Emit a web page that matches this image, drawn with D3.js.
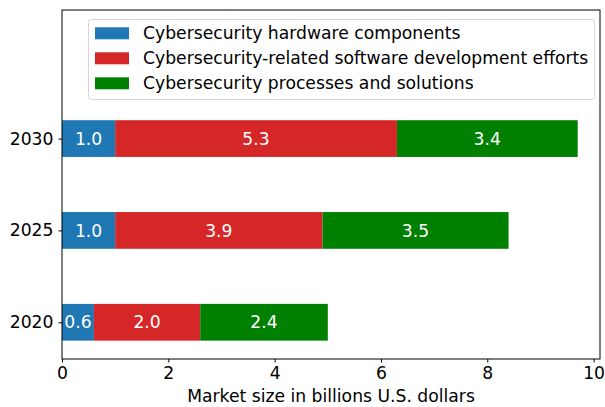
<!DOCTYPE html>
<html>
<head>
<meta charset="utf-8">
<script src="https://cdn.jsdelivr.net/npm/d3@7"></script>
<style>
  html, body { margin: 0; padding: 0; background: #fff; }
  svg { display: block; font-family: "DejaVu Sans", sans-serif; }
</style>
</head>
<body>
<svg id="chart" width="605" height="407"></svg>
<script>
// Market size by year, in billions of U.S. dollars
const years = ["2020", "2025", "2030"];
const seriesNames = [
  "Cybersecurity hardware components",
  "Cybersecurity-related software development efforts",
  "Cybersecurity processes and solutions"
];
const hardware = [0.6, 1.0, 1.0];
const software = [2.0, 3.9, 5.3];
const processes = [2.4, 3.5, 3.4];
const xTicks = [0, 2, 4, 6, 8, 10];
const colors = ["#1f77b4", "#d62728", "#008000"];

const series = [hardware, software, processes];
const fontSize = "17.2px";

const svg = d3.select("#chart");
const plotLeft = 62, plotRight = 600, plotTop = 10, plotBottom = 359;

const x = d3.scaleLinear().domain([0, 10.12]).range([plotLeft, plotRight]);
const y = d3.scaleLinear().domain([-0.4, 3.4]).range([plotBottom, plotTop]);
const barH = y(0) - y(0.4);

// stacked segments
years.forEach((yr, i) => {
  let start = 0;
  series.forEach((vals, s) => {
    const v = vals[i];
    const x0 = x(start), x1 = x(start + v);
    svg.append("rect")
      .attr("x", x0).attr("y", y(i) - barH / 2)
      .attr("width", x1 - x0).attr("height", barH)
      .attr("fill", colors[s]);
    svg.append("text")
      .attr("x", (x0 + x1) / 2).attr("y", y(i))
      .attr("dy", "0.36em")
      .attr("text-anchor", "middle")
      .attr("fill", "#fff")
      .attr("font-size", fontSize)
      .text(v.toFixed(1));
    start += v;
  });
});

// frame
svg.append("rect")
  .attr("x", plotLeft).attr("y", plotTop)
  .attr("width", plotRight - plotLeft).attr("height", plotBottom - plotTop)
  .attr("fill", "none").attr("stroke", "#000").attr("stroke-width", 1);

// x axis
const xAxis = svg.append("g")
  .attr("transform", `translate(0,${plotBottom})`)
  .call(d3.axisBottom(x).tickValues(xTicks).tickFormat(d3.format("d")).tickSize(3.5).tickPadding(4.5));
xAxis.select(".domain").remove();
xAxis.selectAll("text").attr("font-size", fontSize).attr("fill", "#000").attr("font-family", "DejaVu Sans");
xAxis.selectAll("line").attr("stroke", "#000");

// y axis
const yAxis = svg.append("g")
  .attr("transform", `translate(${plotLeft},0)`)
  .call(d3.axisLeft(y).tickValues(d3.range(years.length)).tickFormat(i => years[i]).tickSize(3.5).tickPadding(5));
yAxis.select(".domain").remove();
yAxis.selectAll("text").attr("font-size", fontSize).attr("fill", "#000").attr("font-family", "DejaVu Sans");
yAxis.selectAll("line").attr("stroke", "#000");

// x axis title
svg.append("text")
  .attr("x", (plotLeft + plotRight) / 2).attr("y", 401.5)
  .attr("text-anchor", "middle")
  .attr("font-size", fontSize)
  .text("Market size in billions U.S. dollars");

// legend
const legend = svg.append("g");
legend.append("rect")
  .attr("x", 88.5).attr("y", 19.5)
  .attr("width", 506).attr("height", 80)
  .attr("rx", 3).attr("ry", 3)
  .attr("fill", "#fff").attr("fill-opacity", 0.8)
  .attr("stroke", "#d6d6d6");
seriesNames.forEach((name, s) => {
  const cy = 33.3 + s * 25;
  legend.append("rect")
    .attr("x", 95).attr("y", cy - 6)
    .attr("width", 34).attr("height", 12)
    .attr("fill", colors[s]);
  legend.append("text")
    .attr("x", 143).attr("y", cy)
    .attr("dy", "0.36em")
    .attr("font-size", fontSize)
    .attr("fill", "#000")
    .text(name);
});
</script>
</body>
</html>
